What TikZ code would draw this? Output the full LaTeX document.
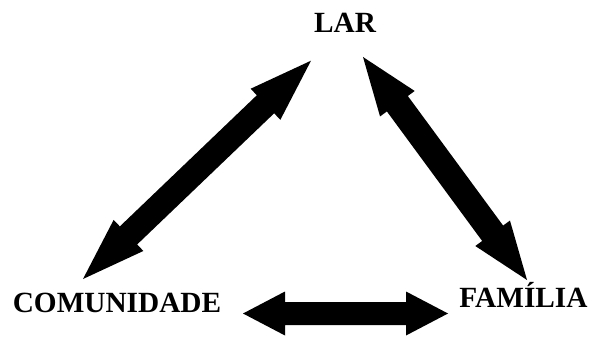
\documentclass[tikz,border=0pt]{standalone}
\usepackage{fontspec}
\setmainfont{Liberation Serif}
\usetikzlibrary{calc}
\newcommand\blockarr[5]{%
  % #1 start, #2 end, #3 head length, #4 head half width, #5 shaft half width
  \coordinate (ha) at ($(#1)!#3!(#2)$);
  \coordinate (hb) at ($(#2)!#3!(#1)$);
  \fill[arrowfill] (#1)
    -- ($(ha)!#4!90:(#2)$) -- ($(ha)!#5!90:(#2)$)
    -- ($(hb)!#5!90:(#2)$) -- ($(hb)!#4!90:(#2)$)
    -- (#2)
    -- ($(hb)!#4!-90:(#2)$) -- ($(hb)!#5!-90:(#2)$)
    -- ($(ha)!#5!-90:(#2)$) -- ($(ha)!#4!-90:(#2)$)
    -- cycle;}
\begin{document}
\begin{tikzpicture}[x=1pt,y=1pt,
  label/.style={font=\fontsize{29.3}{29.3}\selectfont\bfseries, inner sep=0pt, anchor=base},
  arrowfill/.style={fill=black}]
\useasboundingbox (0,0) rectangle (593,337);
\node[label] (lar) at (345,304) {LAR};
\node[label] (com) at (117,25) {COMUNIDADE};
\node[label] (fam) at (523.5,30) {FAMÍLIA};
% arrow end points
\coordinate (l1) at (83,58);
\coordinate (l2) at (311,276.3);
\coordinate (r1) at (363,280);
\coordinate (r2) at (527,57);
\coordinate (b1) at (243,23.5);
\coordinate (b2) at (448,23.5);
\blockarr{l1}{l2}{63pt}{21.5pt}{12.5pt}
\blockarr{r1}{r2}{58pt}{21.5pt}{13pt}
\blockarr{b1}{b2}{42pt}{22pt}{11.5pt}
\end{tikzpicture}
\end{document}
